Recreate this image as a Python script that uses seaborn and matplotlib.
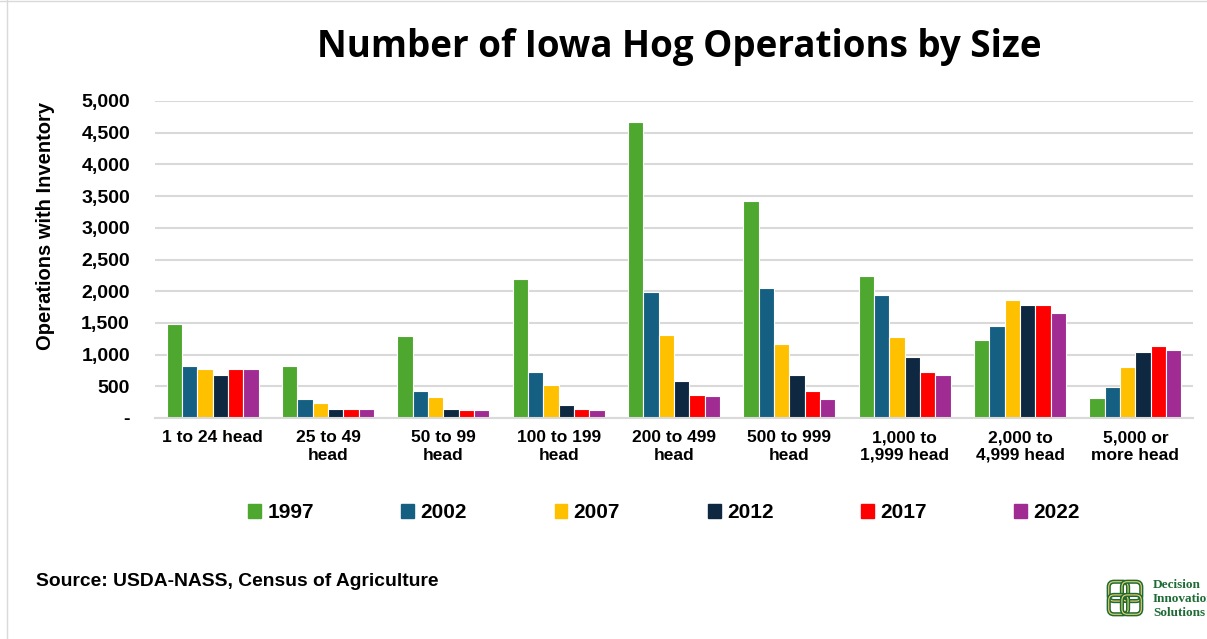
import matplotlib
matplotlib.use("Agg")
import matplotlib.pyplot as plt
import matplotlib.patches as mpatches
import seaborn as sns
import pandas as pd
from matplotlib.ticker import FuncFormatter

categories = ["1 to 24 head", "25 to 49\nhead", "50 to 99\nhead", "100 to 199\nhead",
              "200 to 499\nhead", "500 to 999\nhead", "1,000 to\n1,999 head",
              "2,000 to\n4,999 head", "5,000 or\nmore head"]
years = ["1997", "2002", "2007", "2012", "2017", "2022"]
v1997 = [1475, 815, 1300, 2195, 4675, 3420, 2240, 1235, 315]
v2002 = [815, 295, 425, 720, 1995, 2050, 1935, 1455, 495]
v2007 = [775, 230, 335, 515, 1315, 1170, 1285, 1865, 810]
v2012 = [675, 135, 145, 200, 590, 680, 970, 1790, 1045]
v2017 = [775, 135, 120, 145, 370, 430, 725, 1790, 1135]
v2022 = [775, 135, 120, 130, 340, 300, 685, 1660, 1075]
colors = ["#4EA72E", "#156082", "#FFC000", "#0E2841", "#FF0000", "#A02B93"]

series = [v1997, v2002, v2007, v2012, v2017, v2022]
rows = []
for y, vals in zip(years, series):
    for c, v in zip(categories, vals):
        rows.append({"Size": c, "Year": y, "Ops": v})
df = pd.DataFrame(rows)

sns.set_theme(style="white")
plt.rcParams['font.family'] = ['Liberation Sans', 'DejaVu Sans']
plt.rcParams['text.color'] = 'black'
plt.rcParams['axes.labelcolor'] = 'black'
plt.rcParams['xtick.color'] = 'black'
plt.rcParams['ytick.color'] = 'black'

fig = plt.figure(figsize=(12.07, 6.39), dpi=100)
ax = fig.add_axes([155/1207, 1 - 418/639, (1193-155)/1207, (418-101)/639])

sns.barplot(data=df, x="Size", y="Ops", hue="Year", order=categories, hue_order=years,
            palette=colors, saturation=1, width=0.8, edgecolor="white", linewidth=0.8,
            ax=ax, legend=False)

ax.set_ylim(0, 5000)
ax.set_xlim(-0.5, 8.5)
ax.set_yticks(range(0, 5001, 500))
ax.yaxis.set_major_formatter(FuncFormatter(lambda v, p: "-" if v == 0 else f"{int(v):,}"))
ax.grid(axis="y", color="#D9D9D9", linewidth=1.5)
ax.set_axisbelow(True)
for s in ["top", "right", "left"]:
    ax.spines[s].set_visible(False)
ax.spines["bottom"].set_color("#D9D9D9")
ax.spines["bottom"].set_linewidth(1.5)
ax.tick_params(axis="both", length=0, colors="black")
ax.tick_params(axis="y", pad=18, labelsize=14)
ax.tick_params(axis="x", pad=9, labelsize=12.5)
for t in ax.get_xticklabels() + ax.get_yticklabels():
    t.set_fontweight("bold")
ax.set_xlabel("")
ax.set_ylabel("Operations with Inventory", fontsize=14.5, fontweight="bold", color="black")
ax.yaxis.set_label_coords(-100/1038, (418-226)/317)

fig.text(679/1207, 1 - 47/639, "Number of Iowa Hog Operations by Size",
         ha="center", va="center", fontsize=26.5, fontweight="bold", family="Open Sans",
         color="black")

handles = [mpatches.Patch(color=c, label=y) for c, y in zip(colors, years)]
leg = fig.legend(handles=handles, loc="center", bbox_to_anchor=(664/1207, 1 - 513/639),
                 ncol=6, frameon=False, handlelength=0.62, handleheight=0.62,
                 columnspacing=4.2, handletextpad=0.3, prop={"weight": "bold", "size": 15})

fig.text(36/1207, 1 - 581/639, "Source: USDA-NASS, Census of Agriculture",
         ha="left", va="center", fontsize=13.9, fontweight="bold", color="black")

# logo text
for i, w in enumerate(["Decision", "Innovation", "Solutions"]):
    fig.text(1153/1207, 1 - (585 + i*14)/639, w, ha="left", va="center",
             fontsize=9.5, fontweight="bold", color="#1E6B35", family="Liberation Serif")
logo_ax = fig.add_axes([1103/1207, 1 - 620/639, 44/1207, 44/639])
logo_ax.set_xlim(0, 1); logo_ax.set_ylim(0, 1); logo_ax.axis("off")
for cx, cy in [(0.35, 0.65), (0.65, 0.65), (0.35, 0.35), (0.65, 0.35)]:
    logo_ax.add_patch(mpatches.FancyBboxPatch((cx-0.22, cy-0.22), 0.44, 0.44,
                      boxstyle="round,pad=0,rounding_size=0.12", fill=False,
                      edgecolor="#1E6B35", linewidth=3))
    logo_ax.add_patch(mpatches.FancyBboxPatch((cx-0.22, cy-0.22), 0.44, 0.44,
                      boxstyle="round,pad=0,rounding_size=0.12", fill=False,
                      edgecolor="#F2D36B", linewidth=0.8))

# frame line
fig.add_artist(plt.Line2D([7/1207, 7/1207], [0, 1], color="#D9D9D9", linewidth=1))
fig.add_artist(plt.Line2D([0, 1], [1 - 1/639, 1 - 1/639], color="#D9D9D9", linewidth=1))

fig.savefig("out.png", dpi=100, facecolor="white")
